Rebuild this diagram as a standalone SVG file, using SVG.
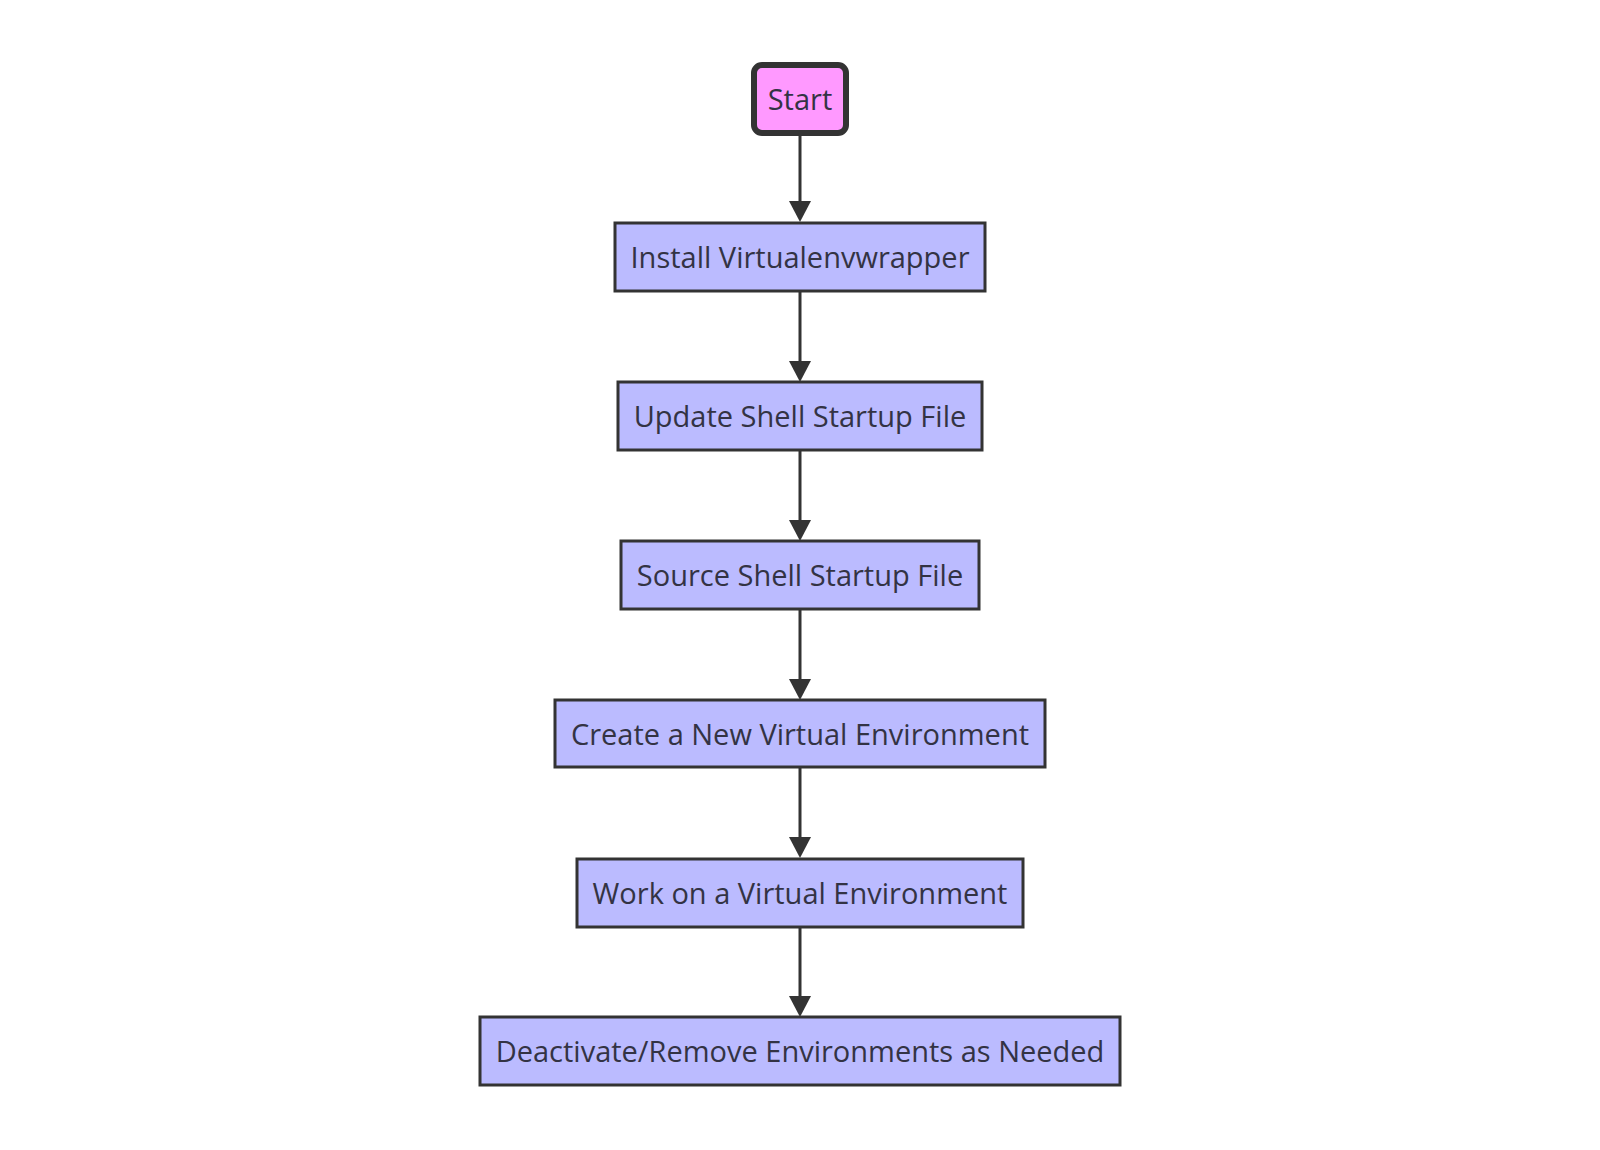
<svg xmlns="http://www.w3.org/2000/svg" width="1600" height="1150" viewBox="0 0 1600 1150">
<style>
.box{fill:#bbbbff;stroke:#333333;stroke-width:3}
.start{fill:#ff99ff;stroke:#333333;stroke-width:6}
.lbl{font-family:"Open Sans","Noto Sans",sans-serif;font-size:29px;fill:#333344;text-anchor:middle;dominant-baseline:central}
.edge{stroke:#333333;stroke-width:3;fill:none}
.head{fill:#333333}
</style>
<rect width="1600" height="1150" fill="#ffffff"/>
<g id="edges">
<line class="edge" x1="800" y1="134" x2="800" y2="202"/>
<path class="head" d="M789,201 L811,201 L800,222 z"/>
<line class="edge" x1="800" y1="291" x2="800" y2="362"/>
<path class="head" d="M789,361 L811,361 L800,382 z"/>
<line class="edge" x1="800" y1="450" x2="800" y2="521"/>
<path class="head" d="M789,520 L811,520 L800,541 z"/>
<line class="edge" x1="800" y1="609" x2="800" y2="680"/>
<path class="head" d="M789,679 L811,679 L800,700 z"/>
<line class="edge" x1="800" y1="767" x2="800" y2="838"/>
<path class="head" d="M789,837 L811,837 L800,858 z"/>
<line class="edge" x1="800" y1="927" x2="800" y2="997"/>
<path class="head" d="M789,996 L811,996 L800,1017 z"/>
</g>
<g id="start">
<rect class="start" x="754" y="65" width="92" height="68" rx="8"/>
<text class="lbl" x="800" y="98">Start</text>
</g>
<g id="install">
<rect class="box" x="615" y="223" width="370" height="68"/>
<text class="lbl" x="800" y="256">Install Virtualenvwrapper</text>
</g>
<g id="update">
<rect class="box" x="618" y="382" width="364" height="68"/>
<text class="lbl" x="800" y="415">Update Shell Startup File</text>
</g>
<g id="source">
<rect class="box" x="621" y="541" width="358" height="68"/>
<text class="lbl" x="800" y="574">Source Shell Startup File</text>
</g>
<g id="create">
<rect class="box" x="555" y="700" width="490" height="67"/>
<text class="lbl" x="800" y="733">Create a New Virtual Environment</text>
</g>
<g id="work">
<rect class="box" x="577" y="859" width="446" height="68"/>
<text class="lbl" x="800" y="892">Work on a Virtual Environment</text>
</g>
<g id="deactivate">
<rect class="box" x="480" y="1017" width="640" height="68"/>
<text class="lbl" x="800" y="1050">Deactivate/Remove Environments as Needed</text>
</g>
</svg>
